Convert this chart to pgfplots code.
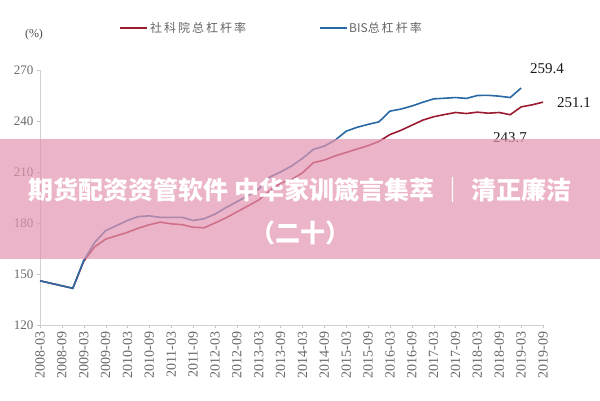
\documentclass[border=0pt]{standalone}
\usepackage{pgfplots}
\pgfplotsset{compat=1.18}
\usepackage{fontspec}
\setmainfont{Liberation Serif}
\newfontfamily\cjk{Noto Sans CJK SC}
\definecolor{redl}{RGB}{155,28,50}
\definecolor{bluel}{RGB}{40,105,165}
\definecolor{pinkb}{RGB}{228,148,176}
\definecolor{tickg}{RGB}{105,105,105}
\begin{document}
\begin{tikzpicture}[x=1pt,y=1pt]
\path[use as bounding box] (0,0) rectangle (600,400);
\begin{axis}[at={(40pt,75pt)}, anchor=south west, scale only axis,
  width=503pt, height=255pt, xmin=0, xmax=46, ymin=120, ymax=270,
  ytick={120,150,...,270}, xtick={0,2,...,46},
  xticklabels={2008-03,2008-09,2009-03,2009-09,2010-03,2010-09,2011-03,2011-09,2012-03,2012-09,2013-03,2013-09,2014-03,2014-09,2015-03,2015-09,2016-03,2016-09,2017-03,2017-09,2018-03,2018-09,2019-03,2019-09},
  x tick label style={rotate=90, anchor=east, font=\fontsize{14}{14}\selectfont, text=tickg, xshift=0pt},
  y tick label style={font=\fontsize{13}{13}\selectfont, text=tickg},
  axis x line*=bottom, axis y line*=left,
  axis line style={draw=black!18, -}, tick style={draw=black!22},
  tick align=outside, major tick length=3pt,
  /pgf/number format/assume math mode=true, clip=false]
\addplot[redl, line width=1.6pt] coordinates {
(0,146) (3,141.6) (4,157.5) (5,166) (6,170.5) (7,172.5) (8,174.5) (9,177) (10,179) (11,180.5)
(12,179.5) (13,179) (14,177.5) (15,177.2) (16,180) (17,183) (18,186.5) (19,190) (20,193.5)
(21,199) (22,203.5) (23,205.5) (24,209.5) (25,215.5) (26,217) (27,219.5) (28,221.5) (29,223.5)
(30,225.5) (31,228) (32,232) (33,234.5) (34,237.5) (35,240.5) (36,242.5) (37,243.8) (38,245)
(39,244.4) (40,245.2) (41,244.6) (42,245) (43,243.7) (44,248.3) (45,249.5) (46,251.1)};
\addplot[bluel, line width=1.6pt] coordinates {
(0,146) (3,141.6) (4,158) (5,168.5) (6,175.5) (7,178.5) (8,181.5) (9,183.8) (10,184.2) (11,183.3)
(12,183.3) (13,183.3) (14,181.5) (15,182.5) (16,185.2) (17,189) (18,192.5) (19,196) (20,200)
(21,207) (22,210) (23,213.5) (24,218) (25,223.3) (26,225.2) (27,228.8) (28,234) (29,236.3)
(30,238) (31,239.5) (32,245.8) (33,247) (34,248.8) (35,251) (36,253) (37,253.4) (38,253.8)
(39,253.3) (40,255) (41,255.1) (42,254.6) (43,253.8) (44,259.4)};
\end{axis}
% axis unit label
\node[font=\fontsize{12}{12}\selectfont, text=black!70] at (34,365) {(\%)};
% legend
\draw[redl, line width=2.5pt] (120,372) -- (147,372);
\node[anchor=west, inner sep=1pt, font=\cjk\fontsize{12}{12}\selectfont, text=black!60] at (149,372) {社\,科\,院\,总\,杠\,杆\,率};
\draw[bluel, line width=2.5pt] (320,372) -- (347,372);
\node[anchor=west, inner sep=1pt, font=\cjk\fontsize{12}{12}\selectfont, text=black!60] at (348,372) {BIS总\,杠\,杆\,率};
% annotations
\node[font=\fontsize{15}{15}\selectfont, text=black!90] at (547,331) {259.4};
\node[font=\fontsize{15}{15}\selectfont, text=black!90] at (574,297) {251.1};
\node[font=\fontsize{15}{15}\selectfont, text=black!90] at (510,262) {243.7};
% banner
\fill[pinkb, fill opacity=0.7] (0,141) rectangle (600,261);
\node[text=white, font=\cjk\bfseries\fontsize{25}{25}\selectfont] at (300,210) {期货配资资管软件 中华家训箴言集萃 ｜ 清正廉洁};
\node[text=white, font=\cjk\bfseries\fontsize{25}{25}\selectfont] at (300,167) {（二十）};
\end{tikzpicture}
\end{document}
